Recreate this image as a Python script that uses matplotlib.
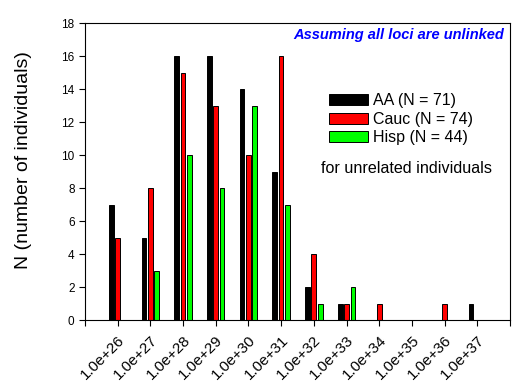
import numpy as np
import matplotlib.pyplot as plt

plt.rcParams['font.family'] = ['Liberation Sans', 'DejaVu Sans']

bins = ['1.0e+26', '1.0e+27', '1.0e+28', '1.0e+29', '1.0e+30', '1.0e+31',
        '1.0e+32', '1.0e+33', '1.0e+34', '1.0e+35', '1.0e+36', '1.0e+37']
aa = [7, 5, 16, 16, 14, 9, 2, 1, 0, 0, 0, 1]
cauc = [5, 8, 15, 13, 10, 16, 4, 1, 1, 0, 1, 0]
hisp = [0, 3, 10, 8, 13, 7, 1, 2, 0, 0, 0, 0]

series = [('AA (N = 71)', aa, 'black'),
          ('Cauc (N = 74)', cauc, '#ff0000'),
          ('Hisp (N = 44)', hisp, '#00ff00')]

fig = plt.figure(figsize=(5.12, 3.9), dpi=100)
ax = fig.add_axes([0.166, 0.179, 0.83, 0.762])

x = np.arange(1, len(bins) + 1)
w = 0.145
offsets = [-0.195, 0.0, 0.195]
for (label, vals, color), off in zip(series, offsets):
    ax.bar(x + off, vals, width=w, color=color, edgecolor='black',
           linewidth=0.7, label=label)

ax.set_xlim(0, 13)
ax.set_ylim(0, 18)
ax.set_xticks(np.arange(0, 14))
ax.set_xticklabels([''] + bins + [''], rotation=45, ha='right',
                   rotation_mode='anchor', fontsize=11)
ax.set_yticks(np.arange(0, 19, 2))
ax.tick_params(axis='y', labelsize=8.5, direction='out', length=4)
ax.tick_params(axis='x', direction='out', length=4, pad=5)
ax.set_ylabel('N (number of individuals)', fontsize=14)
ax.yaxis.set_label_coords(-0.125, 0.54)

ax.text(0.985, 0.961, 'Assuming all loci are unlinked', transform=ax.transAxes,
        ha='right', va='center', color='#0000ff', fontsize=10.5,
        fontweight='bold', fontstyle='italic')
ax.legend(loc='upper left', bbox_to_anchor=(0.556, 0.79), frameon=False,
          fontsize=11.5, handlelength=2.45, handleheight=0.65,
          handletextpad=0.3, labelspacing=0.22, borderpad=0)
ax.text(0.555, 0.51, 'for unrelated individuals', transform=ax.transAxes,
        ha='left', va='center', fontsize=11.6)

fig.savefig('out.png', dpi=100)
